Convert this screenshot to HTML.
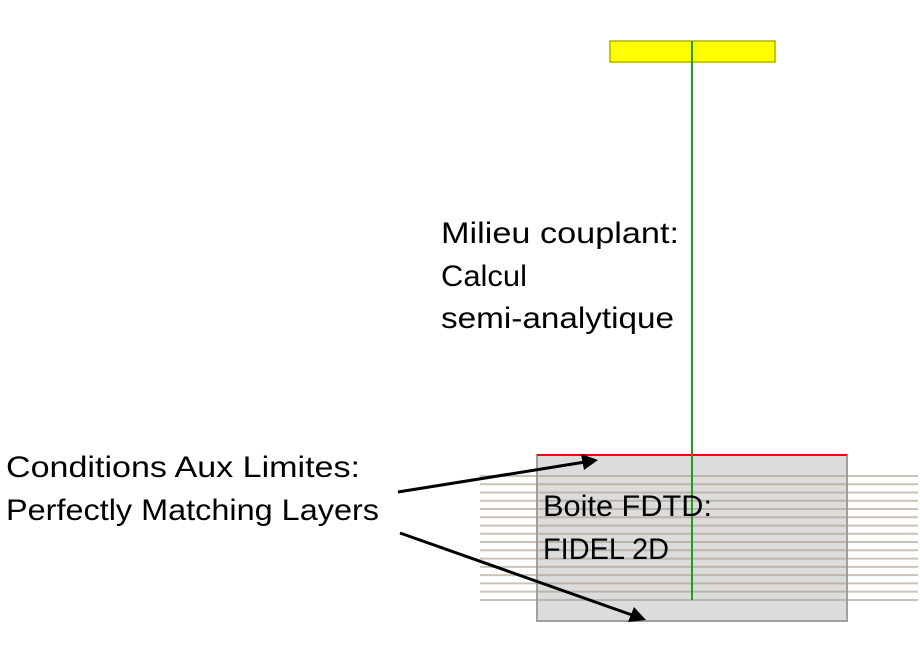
<!DOCTYPE html>
<html><head><meta charset="utf-8"><style>html,body{margin:0;padding:0;background:#fff}</style></head>
<body>
<svg width="920" height="662" xmlns="http://www.w3.org/2000/svg" font-family="Liberation Sans, sans-serif" font-size="30">
<rect x="537" y="455" width="310" height="166" fill="#dcdcdc" stroke="#a0a0a0" stroke-width="2"/>
<g stroke="#a89a8c" stroke-width="2" opacity="0.6">
<line x1="480" y1="476" x2="918" y2="476"/><line x1="480" y1="484.3" x2="918" y2="484.3"/>
<line x1="480" y1="492.5" x2="918" y2="492.5"/><line x1="480" y1="500.8" x2="918" y2="500.8"/>
<line x1="480" y1="509" x2="918" y2="509"/><line x1="480" y1="517.3" x2="918" y2="517.3"/>
<line x1="480" y1="525.6" x2="918" y2="525.6"/><line x1="480" y1="533.8" x2="918" y2="533.8"/>
<line x1="480" y1="542" x2="918" y2="542"/><line x1="480" y1="550.3" x2="918" y2="550.3"/>
<line x1="480" y1="558.6" x2="918" y2="558.6"/><line x1="480" y1="566.9" x2="918" y2="566.9"/>
<line x1="480" y1="575.1" x2="918" y2="575.1"/><line x1="480" y1="583.4" x2="918" y2="583.4"/>
<line x1="480" y1="591.6" x2="918" y2="591.6"/><line x1="480" y1="600" x2="918" y2="600"/>
</g>
<line x1="537" y1="455" x2="847" y2="455" stroke="#ff0000" stroke-width="2"/>
<rect x="610" y="41" width="165" height="21" fill="#ffff00" stroke="#b0b000" stroke-width="1.5"/>
<line x1="692" y1="41" x2="692" y2="600" stroke="#1aa31a" stroke-width="2"/>
<g stroke="#000" stroke-width="3"><line x1="398" y1="492" x2="585" y2="462"/><line x1="400" y1="533" x2="632" y2="615"/></g>
<polygon points="598,460 581,454 584,470" fill="#000"/>
<polygon points="646,620 628,622 634,607" fill="#000"/>
<g fill="#000">
<text x="441" y="243" textLength="238" lengthAdjust="spacingAndGlyphs">Milieu couplant:</text>
<text x="441" y="286" textLength="86" lengthAdjust="spacingAndGlyphs">Calcul</text>
<text x="441" y="328" textLength="233" lengthAdjust="spacingAndGlyphs">semi-analytique</text>
<text x="6" y="477" textLength="354" lengthAdjust="spacingAndGlyphs">Conditions Aux Limites:</text>
<text x="6" y="520" textLength="373" lengthAdjust="spacingAndGlyphs">Perfectly Matching Layers</text>
<text x="543" y="516" textLength="169" lengthAdjust="spacingAndGlyphs">Boite FDTD:</text>
<text x="543" y="559" textLength="126" lengthAdjust="spacingAndGlyphs">FIDEL 2D</text>
</g>
</svg>
</body></html>
